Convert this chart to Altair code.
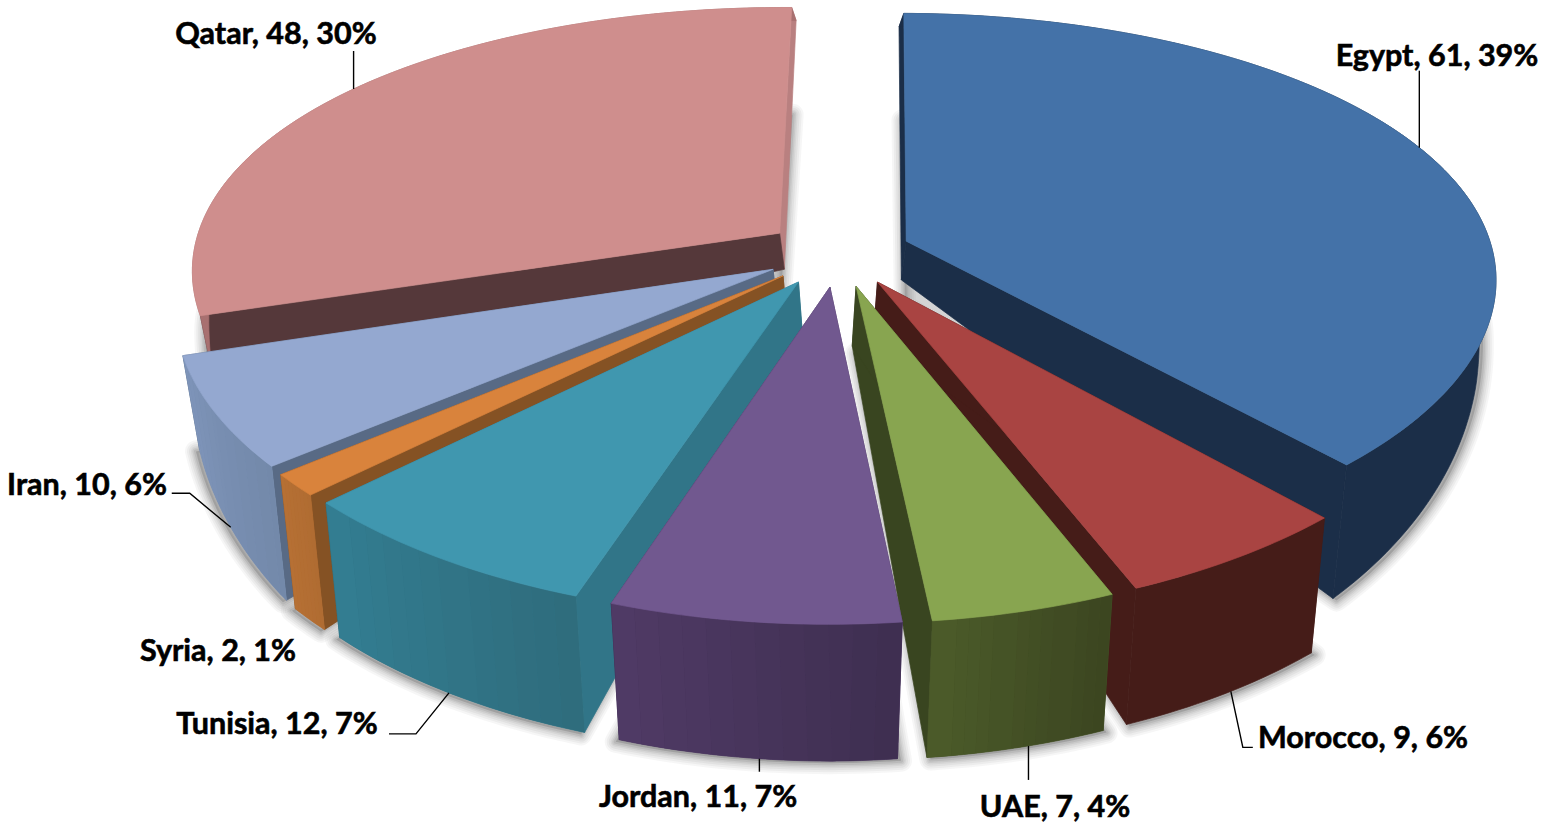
import numpy as np
import pandas as pd
import altair as alt

# Survey counts per country, clockwise from twelve o'clock
countries = ["Egypt", "Morocco", "UAE", "Jordan", "Tunisia", "Syria", "Iran", "Qatar"]
counts = [61, 9, 7, 11, 12, 2, 10, 48]
shares = [39, 6, 4, 7, 7, 1, 6, 30]

# Face colours of each wedge
top_colors = ["#4472a8", "#a94442", "#88a550", "#71588f", "#4097af", "#d9833c", "#94a8d0", "#cf8e8d"]
rim_light = ["#1b2e48", "#451c18", "#4c5c2a", "#503b66", "#337e92", "#b67034", "#7f95ba", "#a87070"]
rim_dark = ["#1b2e48", "#451c18", "#3b4520", "#3e2e50", "#2f6c7c", "#b06c32", "#7389aa", "#a87070"]
start_colors = ["#1b2e48", "#451c18", "#394520", "#46345c", "#317588", "#855224", "#586a85", "#55383a"]
end_colors = ["#1b2e48", "#451c18", "#394520", "#46345c", "#317588", "#855224", "#586a85", "#b98080"]

# Projection of the tilted pie onto the page
CX, CY = 838.0, 253.0
RX, RY = 587.0, 269.0
TILT_X = 0.13
TILT_Y = 0.165
EXPLODE = 0.125
ROTATE = 0.6
BOTTOM_SHRINK = 0.98
BOTTOM_INSET = 3.5
DEPTH_Y = [-1.3, -0.2, 0.06, 0.2, 0.7, 1.15]
DEPTH_PX = [10.0, 25.0, 48.0, 75.0, 134.0, 137.0]
SHADOW_Y = [-1.3, -0.9, -0.2, 0.06, 0.2, 0.7, 1.15]
SHADOW_PX = [110.0, 105.0, 70.0, 60.0, 77.0, 136.0, 139.0]

# Leader lines: elbow and end offsets from the rim point near mid-angle
LEADER_ELBOW = {"Egypt": (0, -77), "Morocco": (12, 56), "UAE": (0, 34), "Jordan": (0, 13),
                "Tunisia": (-33, 41), "Iran": (-41, -34), "Qatar": (0, -38)}
LEADER_END = {"Morocco": (22, 56), "Tunisia": (-60, 41), "Iran": (-59, -34)}
LEADER_TURN = {"Egypt": -1.2, "Morocco": -0.5, "UAE": -1.0, "Qatar": 0.5}
LABEL_POS = {"Egypt": (1437, 57), "Morocco": (1363, 739), "UAE": (1055, 808), "Jordan": (698, 798),
             "Tunisia": (277, 725), "Syria": (218, 652), "Iran": (87, 486), "Qatar": (276, 35)}
PAINT_ORDER = ["Qatar", "Egypt", "Iran", "Morocco", "Syria", "UAE", "Tunisia", "Jordan"]


def top_plane(X, Y):
    return CX + RX * X / (1 - TILT_X * Y), CY + RY * Y / (1 - TILT_Y * Y)


def bottom_plane(X, Y):
    x, y = top_plane(X, Y)
    off = x - CX
    return CX + BOTTOM_SHRINK * off - BOTTOM_INSET * np.sign(off), y + np.interp(Y, DEPTH_Y, DEPTH_PX)


def shadow_plane(X, Y):
    x, y = top_plane(X, Y)
    return CX + BOTTOM_SHRINK * (x - CX), y + np.interp(Y, SHADOW_Y, SHADOW_PX)


def mix(a, b, t):
    ca = [int(a[i:i + 2], 16) for i in (1, 3, 5)]
    cb = [int(b[i:i + 2], 16) for i in (1, 3, 5)]
    return "#" + "".join(f"{round(p + (q - p) * t):02x}" for p, q in zip(ca, cb))


total = sum(counts)
edges = np.cumsum([0] + counts) / total * 360 + ROTATE
wedges = {}
for i, name in enumerate(countries):
    a0, a1 = edges[i], edges[i + 1]
    mid = np.radians((a0 + a1) / 2)
    wedges[name] = dict(i=i, a0=a0, a1=a1, ax=EXPLODE * np.sin(mid), ay=-EXPLODE * np.cos(mid))


def rim_point(w, deg):
    t = np.radians(deg)
    return w["ax"] + np.sin(t), w["ay"] - np.cos(t)


faces = []
shadows = []
face_id = 0


def add_face(points, color, width):
    global face_id
    for k, (x, y) in enumerate(points):
        faces.append(dict(px=x, py=y, k=k, face=face_id, color=color, width=width))
    face_id += 1


for name in PAINT_ORDER:
    w = wedges[name]
    i = w["i"]
    steps = max(8, int(w["a1"] - w["a0"]))
    arc = [rim_point(w, d) for d in np.linspace(w["a0"], w["a1"], steps + 1)]
    apex = (w["ax"], w["ay"])

    outline = [apex] + arc
    for k, p in enumerate(outline):
        sx, sy = shadow_plane(*p)
        shadows.append(dict(px=sx, py=sy, k=k, name=name))

    add_face([top_plane(*apex), top_plane(*arc[-1]), bottom_plane(*arc[-1]), bottom_plane(*apex)], end_colors[i], 0.7)
    add_face([top_plane(*apex), top_plane(*arc[0]), bottom_plane(*arc[0]), bottom_plane(*apex)], start_colors[i], 0.7)

    # A solid rim first, then shaded bands over it that darken towards the clockwise-first end
    rim_outline = [top_plane(*p) for p in arc] + [bottom_plane(*p) for p in reversed(arc)]
    add_face(rim_outline, mix(rim_light[i], rim_dark[i], 0.5), 0.7)
    if rim_light[i] != rim_dark[i]:
        bands = np.linspace(0, steps, 13).astype(int)
        for b0, b1 in zip(bands[:-1], bands[1:]):
            t = (b0 + b1) / 2 / steps
            corners = [top_plane(*p) for p in arc[b0:b1 + 1]] + [bottom_plane(*p) for p in reversed(arc[b0:b1 + 1])]
            add_face(corners, mix(rim_light[i], rim_dark[i], 1 - t), 0.0)

    add_face([top_plane(*p) for p in outline], top_colors[i], 0.7)

leaders = []
for name, elbow in LEADER_ELBOW.items():
    w = wedges[name]
    deg = (w["a0"] + w["a1"]) / 2 + LEADER_TURN.get(name, 0.0)
    plane = top_plane if name in ("Egypt", "Qatar") else bottom_plane
    x0, y0 = plane(*rim_point(w, deg))
    path = [(x0, y0), (x0 + elbow[0], y0 + elbow[1])]
    if name in LEADER_END:
        path.append((x0 + LEADER_END[name][0], y0 + LEADER_END[name][1]))
    for k, (x, y) in enumerate(path):
        leaders.append(dict(px=x, py=y, k=k, name=name))

labels = pd.DataFrame([
    dict(px=LABEL_POS[n][0], py=LABEL_POS[n][1], text=f"{n}, {c}, {s}%")
    for n, c, s in zip(countries, counts, shares)
])

x_enc = alt.X("px:Q", axis=None, scale=alt.Scale(domain=[0, 1546], range=[0, 1546]))
y_enc = alt.Y("py:Q", axis=None, scale=alt.Scale(domain=[0, 822], range=[0, 822]))

# Soft drop shadow: stacked translucent outlines around a translucent fill
shadow_df = pd.DataFrame(shadows)
shadow_fill = alt.Chart(shadow_df).mark_line(
    interpolate="linear-closed", fill="#555555", stroke="#555555", strokeWidth=0, opacity=0.25
).encode(x=x_enc, y=y_enc, detail="name:N", order="k:Q")
shadow_layers = [
    alt.Chart(shadow_df).mark_line(interpolate="linear-closed", stroke="#555555", strokeWidth=sw,
                                   opacity=op, strokeJoin="round")
    .encode(x=x_enc, y=y_enc, detail="name:N", order="k:Q")
    for sw, op in [(22, 0.05), (18, 0.06), (14, 0.07), (10, 0.08), (7, 0.1), (4, 0.12)]
]

face_layer = alt.Chart(pd.DataFrame(faces)).mark_line(
    interpolate="linear-closed", strokeJoin="round"
).encode(
    x=x_enc, y=y_enc, detail="face:N", order="k:Q",
    fill=alt.Fill("color:N", scale=None),
    stroke=alt.Stroke("color:N", scale=None),
    strokeWidth=alt.StrokeWidth("width:Q", scale=None),
)

leader_layer = alt.Chart(pd.DataFrame(leaders)).mark_line(color="#000000", strokeWidth=1.4).encode(
    x=x_enc, y=y_enc, detail="name:N", order="k:Q"
)

label_layer = alt.Chart(labels).mark_text(
    font="Lato", fontWeight="bold", fontSize=30.5, color="#000000", stroke="#000000", strokeWidth=0.6,
    align="center", baseline="middle"
).encode(x=x_enc, y=y_enc, text="text:N")

chart = alt.layer(
    shadow_fill, *shadow_layers, face_layer, leader_layer, label_layer
).properties(
    width=1546, height=822, padding=0, background="#ffffff", autosize=alt.AutoSizeParams(type="none")
).configure_view(stroke=None)

chart.save("out.html", embed_options={"renderer": "svg", "actions": False})
